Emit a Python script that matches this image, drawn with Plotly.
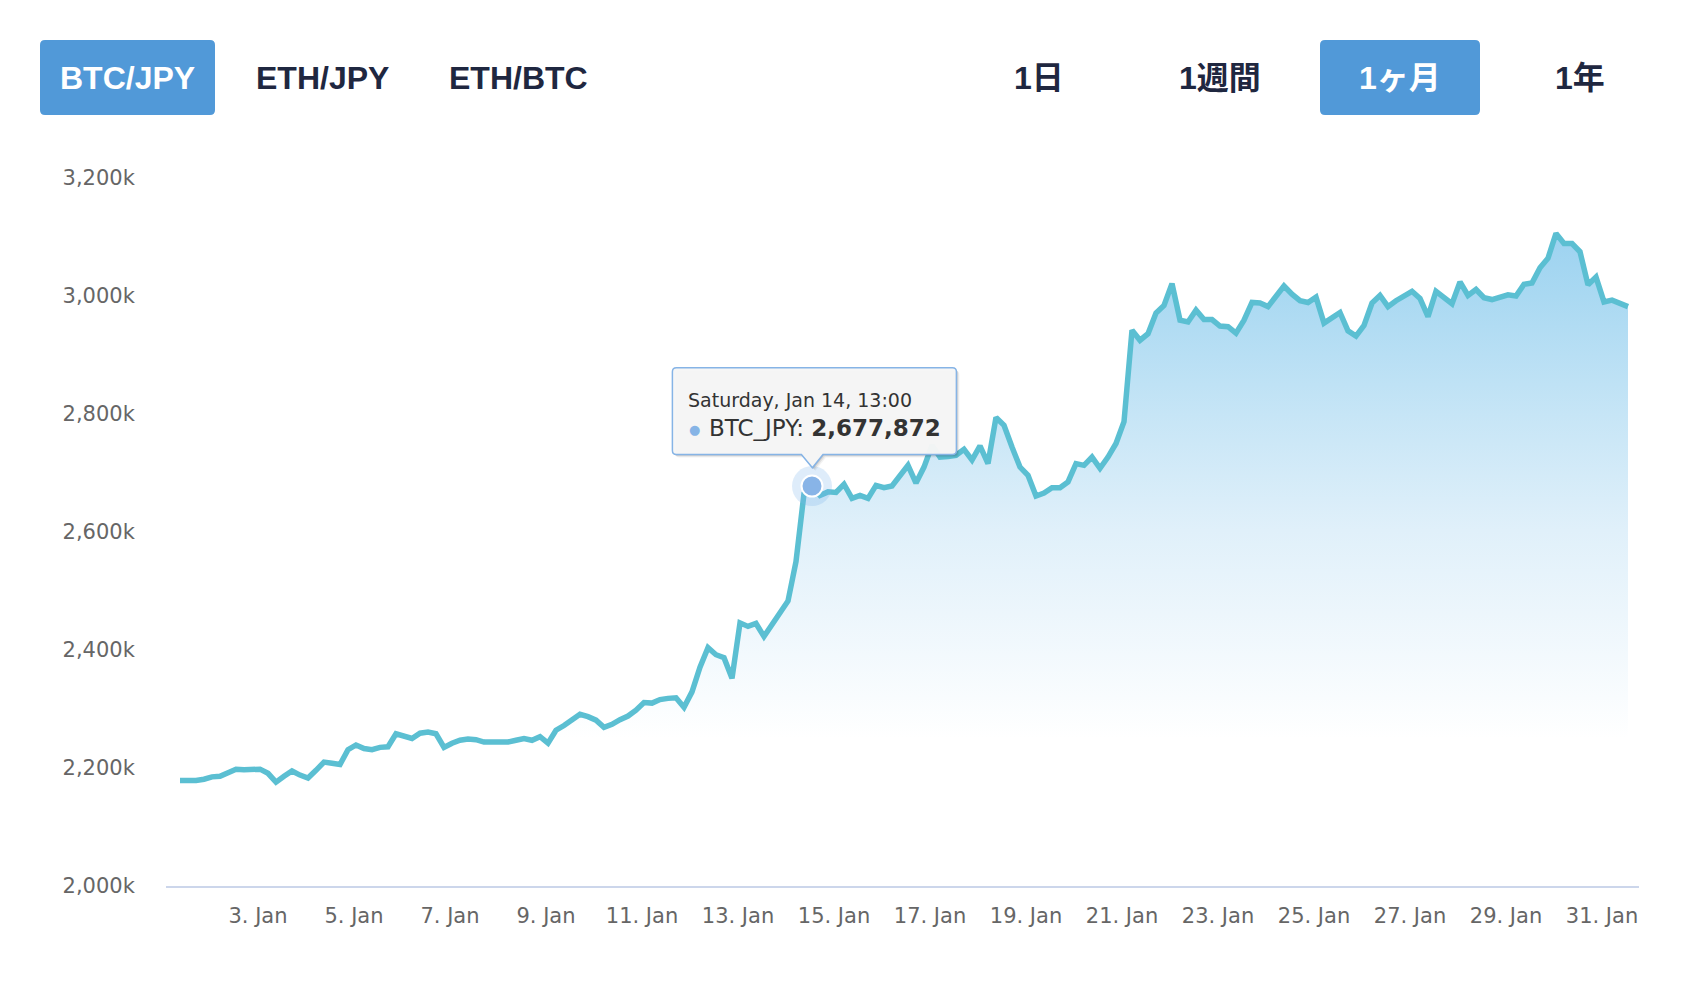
import pandas as pd
import plotly.graph_objects as go

# ---------------- data ----------------
pair_tabs = ["BTC/JPY", "ETH/JPY", "ETH/BTC"]
range_tabs = ["1日", "1週間", "1ヶ月", "1年"]
active_pair = "BTC/JPY"
active_range = "1ヶ月"
series_name = "BTC_JPY"
start_time = "2023-01-01 09:00"   # first sample
sample_step = "4h"                 # sampling interval
# BTC/JPY price in thousands of yen
btc_jpy_k = [
    2179, 2178, 2179, 2181, 2185, 2186, 2192, 2198, 2197, 2197,
    2198, 2191, 2176, 2186, 2195, 2188, 2183, 2196, 2210, 2208,
    2206, 2231, 2239, 2233, 2231, 2235, 2236, 2258, 2253, 2250,
    2259, 2261, 2258, 2235, 2242, 2247, 2249, 2248, 2244, 2244,
    2244, 2244, 2247, 2250, 2247, 2253, 2242, 2264, 2272, 2282,
    2291, 2287, 2281, 2269, 2274, 2282, 2288, 2298, 2311, 2310,
    2316, 2318, 2319, 2303, 2329, 2371, 2404, 2392, 2387, 2352,
    2446, 2440, 2445, 2423, 2443, 2463, 2483, 2550, 2665, 2677.872,
    2662, 2668, 2667, 2681, 2657, 2662, 2657, 2679, 2675, 2678,
    2695, 2713, 2683, 2710, 2747, 2727, 2728, 2730, 2740, 2722,
    2746, 2716, 2794, 2781, 2744, 2710, 2696, 2661, 2666, 2675,
    2675, 2685, 2716, 2713, 2727, 2708, 2727, 2750, 2787, 2942,
    2925, 2936, 2971, 2984, 3021, 2959, 2956, 2976, 2960, 2960,
    2949, 2948, 2937, 2959, 2989, 2988, 2982, 3000, 3017, 3003,
    2992, 2989, 2998, 2954, 2963, 2972, 2941, 2932, 2950, 2988,
    3001, 2982, 2992, 3000, 3008, 2996, 2965, 3008, 2997, 2987,
    3024, 3001, 3011, 2997, 2994, 2997, 3002, 3000, 3020, 3022,
    3048, 3064, 3106, 3089, 3089, 3075, 3019, 3032, 2990, 2993,
    2988, 2982,
]
highlight_index = 79
y_tick_values = [2000, 2200, 2400, 2600, 2800, 3000, 3200]
y_tick_labels = ["2,000k", "2,200k", "2,400k", "2,600k", "2,800k", "3,000k", "3,200k"]
x_range = ["2023-01-01 02:00", "2023-01-31 18:30"]
x_tick_start = "2023-01-03"

times = pd.date_range(start_time, periods=len(btc_jpy_k), freq=sample_step)

# ---------------- styles ----------------
LINE_COLOR = "#5bbfd2"
BTN_BLUE = "#5199d8"
DARK = "#1f2740"
AXIS_FONT = dict(family="DejaVu Sans", size=21, color="#666666")
BTN_FONT = "Liberation Sans, Noto Sans CJK JP, sans-serif"

W, H = 1700, 996
ML, MR, MT, MB = 166, 61, 178, 110

fig = go.Figure()

fig.add_trace(go.Scatter(
    x=times, y=btc_jpy_k, mode="lines", name=series_name,
    line=dict(color=LINE_COLOR, width=5.5, shape="linear"),
    fill="tozeroy",
    fillgradient=dict(
        type="vertical", start=2250, stop=3110,
        colorscale=[
            [0.0, "rgb(255,255,255)"],
            [0.41, "rgb(224,240,250)"],
            [0.64, "rgb(198,229,246)"],
            [0.87, "rgb(170,217,242)"],
            [1.0, "rgb(156,210,240)"],
        ],
    ),
    hoverinfo="skip", showlegend=False,
))

hx = times[highlight_index]
hy = btc_jpy_k[highlight_index]

# halo + marker of hovered point
fig.add_trace(go.Scatter(
    x=[hx], y=[hy], mode="markers",
    marker=dict(size=40, color="rgba(124,181,236,0.25)", line=dict(width=0)),
    hoverinfo="skip", showlegend=False,
))
fig.add_trace(go.Scatter(
    x=[hx], y=[hy], mode="markers",
    marker=dict(size=21, color="#88b4e7", line=dict(width=2, color="white")),
    hoverinfo="skip", showlegend=False,
))

shapes = []
annotations = []


def rrect_path(x0, y0, x1, y1, r, ox, oy):
    """rounded rect given in page pixels, converted to pixel offsets (y up) relative to anchor at page (ox, oy)."""
    def p(x, y):
        return f"{x - ox:.2f},{oy - y:.2f}"
    return (f"M{p(x0 + r, y0)} L{p(x1 - r, y0)} Q{p(x1, y0)} {p(x1, y0 + r)} "
            f"L{p(x1, y1 - r)} Q{p(x1, y1)} {p(x1 - r, y1)} L{p(x0 + r, y1)} "
            f"Q{p(x0, y1)} {p(x0, y1 - r)} L{p(x0, y0 + r)} Q{p(x0, y0)} {p(x0 + r, y0)} Z")


# ---- tab buttons (anchored at plot-area top-left corner) ----
btn_boxes = {"BTC/JPY": (40, 40, 215, 115), "1ヶ月": (1320, 40, 1480, 115)}
tab_centers = {"BTC/JPY": 127.5, "ETH/JPY": 322.5, "ETH/BTC": 518,
               "1日": 1039, "1週間": 1220, "1ヶ月": 1400, "1年": 1580}
for name in pair_tabs + range_tabs:
    active = name in (active_pair, active_range)
    if active:
        x0, y0, x1, y1 = btn_boxes[name]
        shapes.append(dict(
            type="path", xref="paper", yref="paper", xsizemode="pixel", ysizemode="pixel",
            xanchor=0, yanchor=1, path=rrect_path(x0, y0, x1, y1, 5, ML, MT),
            fillcolor=BTN_BLUE, line=dict(width=0), layer="above",
        ))
    annotations.append(dict(
        xref="paper", yref="paper", x=0, y=1, xanchor="center", yanchor="middle",
        xshift=tab_centers[name] - ML, yshift=MT - 77.5,
        text=f"<b>{name}</b>", showarrow=False,
        font=dict(family=BTN_FONT, size=32, color="white" if active else DARK),
    ))

# ---- tooltip (anchored at hovered data point; page pixel of point ~ (812, 483.3)) ----
PX, PY = 812.3, 483.3
bx0, by0, bx1, by1 = 672.7, 365.0, 956.7, 451.7
tipx, tipy = 812.7, 465.0
ab0, ab1 = 801.7, 823.3
r = 4


def tooltip_path(dx, dy):
    def p(x, y):
        return f"{x + dx - PX:.2f},{PY - (y + dy):.2f}"
    return (f"M{p(bx0 + r, by0)} L{p(bx1 - r, by0)} Q{p(bx1, by0)} {p(bx1, by0 + r)} "
            f"L{p(bx1, by1 - r)} Q{p(bx1, by1)} {p(bx1 - r, by1)} L{p(ab1, by1)} "
            f"L{p(tipx, tipy)} L{p(ab0, by1)} L{p(bx0 + r, by1)} Q{p(bx0, by1)} {p(bx0, by1 - r)} "
            f"L{p(bx0, by0 + r)} Q{p(bx0, by0)} {p(bx0 + r, by0)} Z")


for off, alpha in [(3, 0.05), (2, 0.08), (1, 0.12)]:
    shapes.append(dict(
        type="path", xref="x", yref="y", xsizemode="pixel", ysizemode="pixel",
        xanchor=hx, yanchor=hy, path=tooltip_path(off, off),
        fillcolor=f"rgba(0,0,0,{alpha})", line=dict(width=0), layer="above",
    ))
shapes.append(dict(
    type="path", xref="x", yref="y", xsizemode="pixel", ysizemode="pixel",
    xanchor=hx, yanchor=hy, path=tooltip_path(0, 0),
    fillcolor="rgba(247,247,247,0.97)", line=dict(width=1.5, color="#86b4e6"), layer="above",
))

header = pd.Timestamp(hx).strftime("%A, %b %d, %H:%M")
value_txt = f"{round(hy * 1000):,}"
annotations.append(dict(
    xref="x", yref="y", x=hx, y=hy, xanchor="left", yanchor="middle",
    xshift=686 - PX, yshift=PY - 397, showarrow=False, text=header,
    font=dict(family="DejaVu Sans", size=19, color="#333333"),
))
annotations.append(dict(
    xref="x", yref="y", x=hx, y=hy, xanchor="center", yanchor="middle",
    xshift=695 - PX, yshift=PY - 427, showarrow=False, text="●",
    font=dict(family="DejaVu Sans", size=13, color="#86b4e6"),
))
annotations.append(dict(
    xref="x", yref="y", x=hx, y=hy, xanchor="left", yanchor="middle",
    xshift=707 - PX, yshift=PY - 425, showarrow=False,
    text=f"{series_name}: <b>{value_txt}</b>",
    font=dict(family="DejaVu Sans", size=23, color="#333333"),
))

fig.update_layout(
    width=W, height=H,
    margin=dict(l=ML, r=MR, t=MT, b=MB, pad=0),
    paper_bgcolor="white", plot_bgcolor="white",
    hovermode=False, showlegend=False,
    shapes=shapes, annotations=annotations,
    xaxis=dict(
        type="date", range=x_range, tick0=x_tick_start, dtick=2 * 86400000,
        tickformat="%-d. %b", showgrid=False, zeroline=False,
        showline=True, linecolor="#ccd6eb", linewidth=2,
        ticks="outside", ticklen=10, tickcolor="rgba(0,0,0,0)",
        tickfont=AXIS_FONT,
    ),
    yaxis=dict(
        range=[2000, 3200], tickvals=y_tick_values, ticktext=y_tick_labels,
        showgrid=False, zeroline=False, showline=False,
        ticks="outside", ticklen=26, tickcolor="rgba(0,0,0,0)",
        tickfont=AXIS_FONT,
    ),
)

fig.write_html("out.html")
